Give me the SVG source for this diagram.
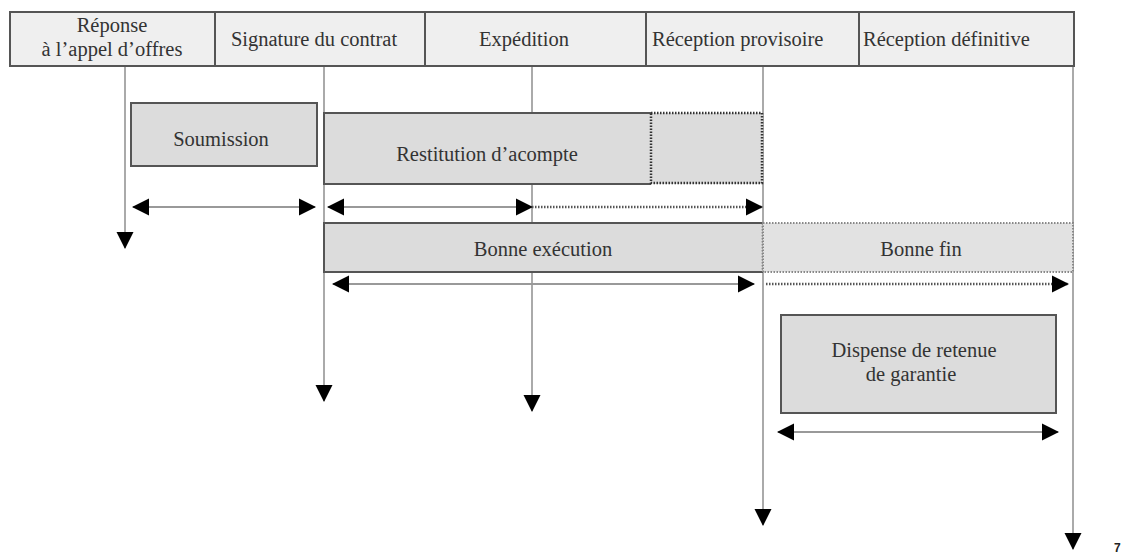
<svg xmlns="http://www.w3.org/2000/svg" width="1125" height="557" viewBox="0 0 1125 557">
<style>
text.t{font-family:'Liberation Serif','DejaVu Serif','Times New Roman',serif;font-size:20.5px;fill:#333}
.hdr{fill:#efefef;stroke:#555;stroke-width:2}
.box{fill:#dcdcdc;stroke:#555;stroke-width:2}
.vl{stroke:#aaa;stroke-width:2;fill:none}
.hl{stroke:#999;stroke-width:2;fill:none}
.dl{stroke:#555;stroke-width:2.5;stroke-dasharray:1.5 1.5;fill:none}
</style>
<defs>
<marker id="end" markerUnits="userSpaceOnUse" markerWidth="18" markerHeight="18" refX="16" refY="9" orient="auto"><path d="M0,0.5 L17,9 L0,17.5 Z" fill="#000"/></marker>
<marker id="start" markerUnits="userSpaceOnUse" markerWidth="18" markerHeight="18" refX="1" refY="9" orient="auto"><path d="M17,0.5 L0,9 L17,17.5 Z" fill="#000"/></marker>
</defs>

<g id="connectors">
<line class="vl" x1="125" y1="66" x2="125" y2="248" marker-end="url(#end)"/>
<line class="vl" x1="324" y1="66" x2="324" y2="401" marker-end="url(#end)"/>
<line class="vl" x1="532" y1="66" x2="532" y2="411" marker-end="url(#end)"/>
<line class="vl" x1="763" y1="66" x2="763" y2="525" marker-end="url(#end)"/>
<line class="vl" x1="1073" y1="66" x2="1073" y2="549" marker-end="url(#end)"/>
</g>

<g id="header">
<rect class="hdr" x="10" y="12" width="1064" height="54"/>
<line stroke="#555" stroke-width="2" x1="215" y1="12" x2="215" y2="66"/>
<line stroke="#555" stroke-width="2" x1="425" y1="12" x2="425" y2="66"/>
<line stroke="#555" stroke-width="2" x1="646" y1="12" x2="646" y2="66"/>
<line stroke="#555" stroke-width="2" x1="859" y1="12" x2="859" y2="66"/>
<text class="t" x="112" y="32" text-anchor="middle">Réponse</text>
<text class="t" x="112" y="56" text-anchor="middle">à l’appel d’offres</text>
<text class="t" x="314" y="46" text-anchor="middle">Signature du contrat</text>
<text class="t" x="524" y="46" text-anchor="middle">Expédition</text>
<text class="t" x="652" y="46">Réception provisoire</text>
<text class="t" x="863" y="46">Réception définitive</text>
</g>

<g id="soumission">
<rect class="box" x="131" y="103" width="186" height="63"/>
<text class="t" x="221" y="146" text-anchor="middle">Soumission</text>
</g>

<g id="restitution">
<rect fill="#dcdcdc" x="324" y="113" width="439" height="71"/>
<path d="M651,113 L324,113 L324,184 L651,184" stroke="#555" stroke-width="2" fill="none"/>
<rect x="651" y="113" width="111" height="70" fill="none" stroke="#333" stroke-width="2.5" stroke-dasharray="1.5 1.5"/>
<text class="t" x="487" y="161" text-anchor="middle">Restitution d’acompte</text>
</g>

<g id="bonne-execution">
<rect fill="#dcdcdc" x="324" y="223" width="439" height="49"/>
<path d="M763,223 L324,223 L324,272 L763,272" stroke="#555" stroke-width="2" fill="none"/>
<line class="dl" x1="763" y1="223" x2="763" y2="272"/>
<text class="t" x="543" y="256" text-anchor="middle">Bonne exécution</text>
</g>

<g id="bonne-fin">
<rect x="763" y="223" width="310" height="49" fill="#e2e2e2" stroke="#888" stroke-width="2" stroke-dasharray="1.5 1.5"/>
<text class="t" x="921" y="256" text-anchor="middle">Bonne fin</text>
</g>

<g id="dispense">
<rect class="box" x="781" y="315" width="275" height="98"/>
<text class="t" x="914" y="357" text-anchor="middle">Dispense de retenue</text>
<text class="t" x="911" y="381" text-anchor="middle">de garantie</text>
</g>

<g id="durations">
<line class="hl" x1="133" y1="207" x2="315" y2="207" marker-start="url(#start)" marker-end="url(#end)"/>
<line class="hl" x1="328" y1="207" x2="532" y2="207" marker-start="url(#start)" marker-end="url(#end)"/>
<line class="dl" x1="532" y1="207" x2="762" y2="207" marker-end="url(#end)"/>
<line class="hl" x1="333" y1="284" x2="754" y2="284" marker-start="url(#start)" marker-end="url(#end)"/>
<line class="dl" x1="766" y1="284" x2="1068" y2="284" marker-end="url(#end)"/>
<line class="hl" x1="778" y1="432" x2="1058" y2="432" marker-start="url(#start)" marker-end="url(#end)"/>
</g>

<text x="1114" y="552" style="font-family:'Liberation Sans',Arial,sans-serif;font-size:12px;font-weight:bold;fill:#222">7</text>
</svg>
